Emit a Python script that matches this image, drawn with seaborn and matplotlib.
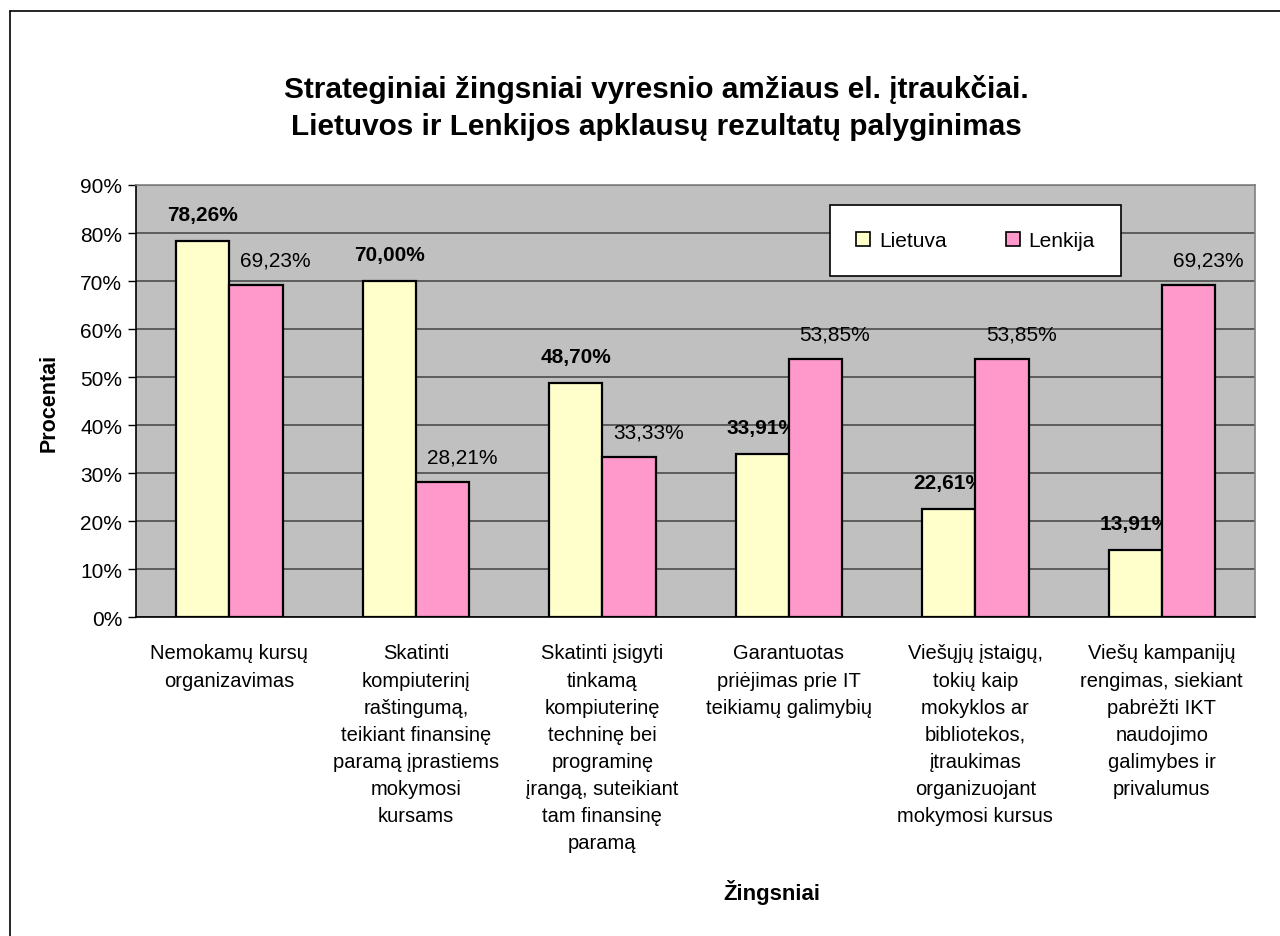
import seaborn as sns
import matplotlib.pyplot as plt
import pandas as pd
import numpy as np
from matplotlib.lines import Line2D

categories = [
    "Nemokamų kursų\norganizavimas",
    "Skatinti\nkompiuterinį\nraštingumą,\nteikiant finansinę\nparamą įprastiems\nmokymosi\nkursams",
    "Skatinti įsigyti\ntinkamą\nkompiuterinę\ntechninę bei\nprograminę\nįrangą, suteikiant\ntam finansinę\nparamą",
    "Garantuotas\npriėjimas prie IT\nteikiamų galimybių",
    "Viešųjų įstaigų,\ntokių kaip\nmokyklos ar\nbibliotekos,\nįtraukimas\norganizuojant\nmokymosi kursus",
    "Viešų kampanijų\nrengimas, siekiant\npabrėžti IKT\nnaudojimo\ngalimybes ir\nprivalumus",
]
lietuva = [78.26, 70.00, 48.70, 33.91, 22.61, 13.91]
lenkija = [69.23, 28.21, 33.33, 53.85, 53.85, 69.23]
series = ["Lietuva", "Lenkija"]
colors = ["#FFFFCC", "#FF99CC"]
yticks = [0, 10, 20, 30, 40, 50, 60, 70, 80, 90]

df = pd.DataFrame({
    "cat": categories * 2,
    "val": lietuva + lenkija,
    "serija": ["Lietuva"] * len(categories) + ["Lenkija"] * len(categories),
})

sns.set_style("white")
plt.rcParams["font.family"] = ["Liberation Sans", "DejaVu Sans"]
plt.rcParams.update({"text.color": "black", "axes.labelcolor": "black",
                     "xtick.color": "black", "ytick.color": "black"})

fig = plt.figure(figsize=(12.8, 9.37), dpi=100)
ax = fig.add_axes([0.1063, 0.3404, 0.8742, 0.4611])
ax.set_facecolor("#C0C0C0")

sns.barplot(data=df, x="cat", y="val", hue="serija", hue_order=series,
            palette=colors, width=0.571, gap=0, edgecolor="black",
            linewidth=1.6, saturation=1, legend=False, ax=ax, zorder=2)

# Lenkija bars cover the bold Lietuva labels where they overlap
for p in ax.containers[1]:
    p.set_zorder(3)

ax.set_ylim(0, 90)
ax.set_xlim(-0.5, len(categories) - 0.5)
ax.set_yticks(yticks)
ax.set_yticklabels([f"{t}%" for t in yticks], fontsize=15)
ax.yaxis.grid(True, color="#555555", linewidth=1.3, zorder=0)
ax.set_axisbelow(True)

ax.set_xticks(range(len(categories)))
ax.set_xticklabels(categories, fontsize=14.5, linespacing=1.54, va="top")
ax.tick_params(axis="x", which="major", length=0, pad=19)
ax.set_xticks(np.arange(-0.5, len(categories), 1), minor=True)
ax.tick_params(axis="x", which="minor", length=6, width=1, color="black")
ax.tick_params(axis="y", length=6, width=1, color="black", left=True, pad=4)
ax.set_xlabel("")
ax.set_ylabel("")

for s in ["left", "bottom"]:
    ax.spines[s].set_color("black")
    ax.spines[s].set_linewidth(1.2)
for s in ["top", "right"]:
    ax.spines[s].set_color("#808080")
    ax.spines[s].set_linewidth(1.2)

def fmt(v):
    return f"{v:.2f}%".replace(".", ",")

for bar, v in zip(ax.containers[0], lietuva):
    ax.annotate(fmt(v), (bar.get_x() + bar.get_width() / 2, v),
                xytext=(0, 19), textcoords="offset points",
                ha="center", va="center", fontsize=15, fontweight="bold",
                zorder=2.5)
for bar, v in zip(ax.containers[1], lenkija):
    ax.annotate(fmt(v), (bar.get_x() + bar.get_width() / 2, v),
                xytext=(14, 18), textcoords="offset points",
                ha="center", va="center", fontsize=15, zorder=4)

handles = [Line2D([], [], marker="s", linestyle="", markersize=9.5,
                  markerfacecolor=c, markeredgecolor="black",
                  markeredgewidth=1.2) for c in colors]
leg = ax.legend(handles, series, ncol=2, loc="upper left",
                bbox_to_anchor=(0.620, 0.954), fontsize=15, frameon=True,
                fancybox=False, edgecolor="black", framealpha=1,
                borderpad=1.25, handletextpad=0.45, columnspacing=2.85,
                handlelength=0.65, borderaxespad=0)
leg.get_frame().set_linewidth(1.2)
leg.set_zorder(5)

fig.text(0.5125, 0.885,
         "Strateginiai žingsniai vyresnio amžiaus el. įtraukčiai.\nLietuvos ir Lenkijos apklausų rezultatų palyginimas",
         ha="center", va="center", fontsize=21.4, fontweight="bold",
         linespacing=1.4)
fig.text(0.0385, 0.57, "Procentai", rotation=90, ha="center", va="center",
         fontsize=15.5, fontweight="bold")
fig.text(0.603, 0.047, "Žingsniai", ha="center", va="center",
         fontsize=16, fontweight="bold")

# outer chart border (only top and left edges fall inside the image)
fig.add_artist(Line2D([10 / 1280, 10 / 1280], [1 - 12 / 937, 0],
                      transform=fig.transFigure, color="black", lw=1.2))
fig.add_artist(Line2D([10 / 1280, 1], [1 - 12 / 937, 1 - 12 / 937],
                      transform=fig.transFigure, color="black", lw=1.2))

fig.savefig("out.png", dpi=100, facecolor="white")
